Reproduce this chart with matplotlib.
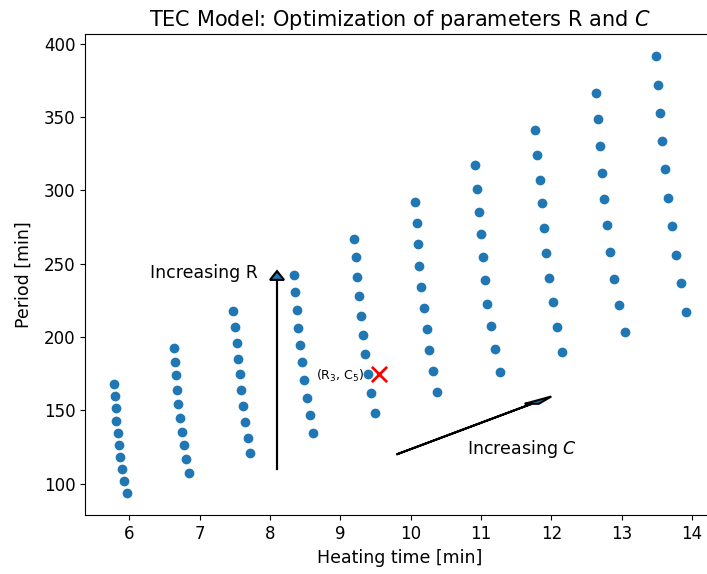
import matplotlib.pyplot as plt
import numpy as np

# heating time [min] and period [min] for each R/C combination, one column per C value
heat_times = [
    [5.782, 5.792, 5.807, 5.811, 5.839, 5.854, 5.872, 5.892, 5.920, 5.963],
    [6.631, 6.645, 6.660, 6.682, 6.692, 6.717, 6.749, 6.778, 6.806, 6.844],
    [7.481, 7.503, 7.527, 7.550, 7.570, 7.584, 7.612, 7.641, 7.688, 7.720],
    [8.337, 8.360, 8.384, 8.403, 8.427, 8.455, 8.484, 8.522, 8.565, 8.612],
    [9.194, 9.227, 9.241, 9.261, 9.290, 9.322, 9.351, 9.398, 9.436, 9.489],
    [10.066, 10.086, 10.109, 10.123, 10.151, 10.185, 10.228, 10.261, 10.318, 10.379],
    [10.915, 10.939, 10.967, 10.996, 11.028, 11.057, 11.090, 11.146, 11.195, 11.270],
    [11.768, 11.796, 11.835, 11.863, 11.891, 11.928, 11.971, 12.019, 12.080, 12.147],
    [12.639, 12.659, 12.687, 12.716, 12.744, 12.791, 12.838, 12.891, 12.958, 13.043],
    [13.488, 13.516, 13.549, 13.577, 13.620, 13.663, 13.711, 13.768, 13.839, 13.918],
]
periods = [
    [168.0, 159.9, 151.4, 142.9, 134.7, 126.3, 118.4, 109.9, 101.6, 93.6],
    [192.9, 183.2, 173.9, 164.1, 154.6, 145.1, 135.6, 126.1, 116.7, 107.0],
    [217.9, 207.2, 195.9, 185.4, 174.6, 163.9, 153.1, 142.2, 131.3, 120.8],
    [242.4, 230.6, 218.4, 206.5, 194.8, 182.7, 170.5, 158.5, 146.7, 134.9],
    [267.2, 254.4, 241.2, 227.9, 214.7, 201.4, 188.2, 174.8, 161.6, 148.5],
    [292.2, 277.8, 263.5, 248.7, 234.2, 219.9, 205.4, 190.9, 176.6, 162.3],
    [317.2, 301.1, 285.4, 270.3, 254.6, 238.8, 222.9, 207.5, 191.6, 175.9],
    [341.0, 324.1, 307.3, 291.2, 274.4, 257.3, 240.5, 224.0, 207.0, 189.8],
    [366.7, 348.5, 330.3, 312.2, 293.9, 276.2, 258.0, 239.9, 222.0, 203.6],
    [391.6, 372.1, 352.8, 333.5, 314.3, 294.8, 275.5, 256.2, 236.7, 217.4],
]

# chosen parameter pair
best_time = 9.55
best_period = 175.0

fig = plt.figure(figsize=(7.07, 5.74), dpi=100)
ax = fig.add_axes([0.1202, 0.1023, 0.8904, 0.838])

ax.scatter(np.ravel(heat_times), np.ravel(periods), s=36, color='C0')
ax.scatter(best_time, best_period, marker='x', color='red', s=120, linewidths=2)
ax.text(8.66, 171, r'(R$_3$, C$_5$)', fontsize=9)

ax.arrow(8.1, 110, 0, 135, head_width=0.2, head_length=6,
         length_includes_head=True, ec='k', lw=1.5)
ax.text(6.3, 240, 'Increasing R', fontsize=12.5)
ax.arrow(9.8, 120, 2.2, 39.5, head_width=0.2, head_length=5,
         length_includes_head=True, ec='k', lw=1.5)
ax.text(10.8, 120, 'Increasing $C$', fontsize=12.5)

ax.set_xlim(5.37, 14.32)
ax.set_ylim(78.5, 406.5)
ax.tick_params(labelsize=12)
ax.set_xlabel('Heating time [min]', fontsize=12.5)
ax.set_ylabel('Period [min]', fontsize=12.5, labelpad=8)
ax.set_title('TEC Model: Optimization of parameters R and $C$', fontsize=15)

fig.savefig('out.png', dpi=100)
